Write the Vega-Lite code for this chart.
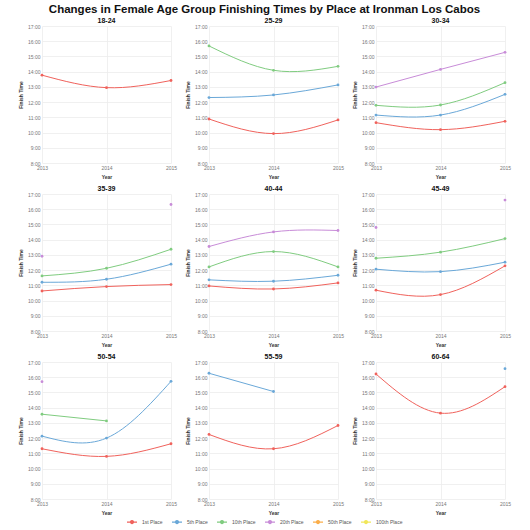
{
  "$schema": "https://vega.github.io/schema/vega-lite/v6.json",
  "title": {
    "text": "Changes in Female Age Group Finishing Times by Place at Ironman Los Cabos",
    "fontSize": 11.5,
    "fontWeight": "bold",
    "font": "Liberation Sans",
    "color": "#111111",
    "anchor": "middle",
    "offset": 2
  },
  "background": "#ffffff",
  "padding": {"left": 18, "top": 3, "right": 8, "bottom": 2},
  "config": {
    "font": "Liberation Sans",
    "view": {"stroke": null},
    "axis": {
      "grid": true,
      "gridColor": "#ececec",
      "gridWidth": 0.8,
      "domain": false,
      "ticks": false,
      "labelFontSize": 5,
      "labelColor": "#777777",
      "labelPadding": 2,
      "labelFlush": false,
      "labelOverlap": false,
      "titleFontSize": 5,
      "titleFontWeight": "bold",
      "titleColor": "#333333",
      "titlePadding": 4
    },
    "legend": {
      "orient": "bottom",
      "direction": "horizontal",
      "title": null,
      "labelFontSize": 5,
      "labelColor": "#555555",
      "symbolType": "M-1,0L1,0M0.3,0A0.3,0.3 0 1,1 -0.3,0A0.3,0.3 0 1,1 0.3,0",
      "symbolSize": 100,
      "symbolStrokeWidth": 1.2,
      "columnPadding": 6,
      "offset": 1,
      "layout": {"bottom": {"anchor": "middle"}}
    }
  },
  "data": {
    "values": [
      {"group": "18-24", "place": "1st Place", "year": 2013, "time": 13.77},
      {"group": "18-24", "place": "1st Place", "year": 2014, "time": 12.95},
      {"group": "18-24", "place": "1st Place", "year": 2015, "time": 13.42},

      {"group": "25-29", "place": "1st Place", "year": 2013, "time": 10.89},
      {"group": "25-29", "place": "1st Place", "year": 2014, "time": 9.93},
      {"group": "25-29", "place": "1st Place", "year": 2015, "time": 10.83},
      {"group": "25-29", "place": "5th Place", "year": 2013, "time": 12.3},
      {"group": "25-29", "place": "5th Place", "year": 2014, "time": 12.47},
      {"group": "25-29", "place": "5th Place", "year": 2015, "time": 13.13},
      {"group": "25-29", "place": "10th Place", "year": 2013, "time": 15.69},
      {"group": "25-29", "place": "10th Place", "year": 2014, "time": 14.09},
      {"group": "25-29", "place": "10th Place", "year": 2015, "time": 14.35},

      {"group": "30-34", "place": "1st Place", "year": 2013, "time": 10.65},
      {"group": "30-34", "place": "1st Place", "year": 2014, "time": 10.19},
      {"group": "30-34", "place": "1st Place", "year": 2015, "time": 10.74},
      {"group": "30-34", "place": "5th Place", "year": 2013, "time": 11.15},
      {"group": "30-34", "place": "5th Place", "year": 2014, "time": 11.15},
      {"group": "30-34", "place": "5th Place", "year": 2015, "time": 12.51},
      {"group": "30-34", "place": "10th Place", "year": 2013, "time": 11.79},
      {"group": "30-34", "place": "10th Place", "year": 2014, "time": 11.81},
      {"group": "30-34", "place": "10th Place", "year": 2015, "time": 13.28},
      {"group": "30-34", "place": "20th Place", "year": 2013, "time": 12.99},
      {"group": "30-34", "place": "20th Place", "year": 2014, "time": 14.15},
      {"group": "30-34", "place": "20th Place", "year": 2015, "time": 15.27},

      {"group": "35-39", "place": "1st Place", "year": 2013, "time": 10.63},
      {"group": "35-39", "place": "1st Place", "year": 2014, "time": 10.92},
      {"group": "35-39", "place": "1st Place", "year": 2015, "time": 11.05},
      {"group": "35-39", "place": "5th Place", "year": 2013, "time": 11.2},
      {"group": "35-39", "place": "5th Place", "year": 2014, "time": 11.4},
      {"group": "35-39", "place": "5th Place", "year": 2015, "time": 12.39},
      {"group": "35-39", "place": "10th Place", "year": 2013, "time": 11.62},
      {"group": "35-39", "place": "10th Place", "year": 2014, "time": 12.12},
      {"group": "35-39", "place": "10th Place", "year": 2015, "time": 13.37},
      {"group": "35-39", "place": "20th Place", "year": 2013, "time": 12.91},
      {"group": "35-39", "place": "20th Place", "year": 2014, "time": null},
      {"group": "35-39", "place": "20th Place", "year": 2015, "time": 16.31},

      {"group": "40-44", "place": "1st Place", "year": 2013, "time": 10.96},
      {"group": "40-44", "place": "1st Place", "year": 2014, "time": 10.76},
      {"group": "40-44", "place": "1st Place", "year": 2015, "time": 11.16},
      {"group": "40-44", "place": "5th Place", "year": 2013, "time": 11.36},
      {"group": "40-44", "place": "5th Place", "year": 2014, "time": 11.27},
      {"group": "40-44", "place": "5th Place", "year": 2015, "time": 11.66},
      {"group": "40-44", "place": "10th Place", "year": 2013, "time": 12.21},
      {"group": "40-44", "place": "10th Place", "year": 2014, "time": 13.22},
      {"group": "40-44", "place": "10th Place", "year": 2015, "time": 12.21},
      {"group": "40-44", "place": "20th Place", "year": 2013, "time": 13.55},
      {"group": "40-44", "place": "20th Place", "year": 2014, "time": 14.51},
      {"group": "40-44", "place": "20th Place", "year": 2015, "time": 14.6},

      {"group": "45-49", "place": "1st Place", "year": 2013, "time": 10.68},
      {"group": "45-49", "place": "1st Place", "year": 2014, "time": 10.39},
      {"group": "45-49", "place": "1st Place", "year": 2015, "time": 12.28},
      {"group": "45-49", "place": "5th Place", "year": 2013, "time": 12.06},
      {"group": "45-49", "place": "5th Place", "year": 2014, "time": 11.9},
      {"group": "45-49", "place": "5th Place", "year": 2015, "time": 12.52},
      {"group": "45-49", "place": "10th Place", "year": 2013, "time": 12.78},
      {"group": "45-49", "place": "10th Place", "year": 2014, "time": 13.18},
      {"group": "45-49", "place": "10th Place", "year": 2015, "time": 14.07},
      {"group": "45-49", "place": "20th Place", "year": 2013, "time": 14.8},
      {"group": "45-49", "place": "20th Place", "year": 2014, "time": null},
      {"group": "45-49", "place": "20th Place", "year": 2015, "time": 16.6},

      {"group": "50-54", "place": "1st Place", "year": 2013, "time": 11.3},
      {"group": "50-54", "place": "1st Place", "year": 2014, "time": 10.8},
      {"group": "50-54", "place": "1st Place", "year": 2015, "time": 11.63},
      {"group": "50-54", "place": "5th Place", "year": 2013, "time": 12.13},
      {"group": "50-54", "place": "5th Place", "year": 2014, "time": 12.0},
      {"group": "50-54", "place": "5th Place", "year": 2015, "time": 15.73},
      {"group": "50-54", "place": "10th Place", "year": 2013, "time": 13.57},
      {"group": "50-54", "place": "10th Place", "year": 2014, "time": 13.13},
      {"group": "50-54", "place": "20th Place", "year": 2013, "time": 15.71},

      {"group": "55-59", "place": "1st Place", "year": 2013, "time": 12.24},
      {"group": "55-59", "place": "1st Place", "year": 2014, "time": 11.3},
      {"group": "55-59", "place": "1st Place", "year": 2015, "time": 12.83},
      {"group": "55-59", "place": "5th Place", "year": 2013, "time": 16.26},
      {"group": "55-59", "place": "5th Place", "year": 2014, "time": 15.06},

      {"group": "60-64", "place": "1st Place", "year": 2013, "time": 16.21},
      {"group": "60-64", "place": "1st Place", "year": 2014, "time": 13.64},
      {"group": "60-64", "place": "1st Place", "year": 2015, "time": 15.38},
      {"group": "60-64", "place": "5th Place", "year": 2015, "time": 16.56}
    ]
  },
  "facet": {
    "field": "group",
    "type": "nominal",
    "sort": ["18-24", "25-29", "30-34", "35-39", "40-44", "45-49", "50-54", "55-59", "60-64"],
    "header": {
      "title": null,
      "labelFontSize": 7,
      "labelFontWeight": "bold",
      "labelColor": "#111111",
      "labelPadding": 0
    }
  },
  "columns": 3,
  "spacing": {"column": 8, "row": 6},
  "resolve": {"axis": {"x": "independent", "y": "independent"}},
  "spec": {
    "width": 129,
    "height": 137,
    "encoding": {
      "x": {
        "field": "year",
        "type": "quantitative",
        "scale": {"domain": [2013, 2015], "nice": false, "zero": false},
        "axis": {
          "title": "Year",
          "values": [2013, 2014, 2015],
          "labelExpr": "'' + datum.value",
          "labelOverlap": false,
          "labelBound": false
        }
      },
      "y": {
        "field": "time",
        "type": "quantitative",
        "scale": {"domain": [8, 17], "nice": false, "zero": false},
        "axis": {
          "title": "Finish Time",
          "values": [8, 9, 10, 11, 12, 13, 14, 15, 16, 17],
          "labelExpr": "datum.value + ':00'"
        }
      },
      "color": {
        "field": "place",
        "type": "nominal",
        "scale": {
          "domain": ["1st Place", "5th Place", "10th Place", "20th Place", "50th Place", "100th Place"],
          "range": ["#f0625c", "#6aa8d8", "#80cc80", "#c88cd8", "#fbae4a", "#f1e75a"]
        }
      }
    },
    "layer": [
      {
        "mark": {"type": "line", "interpolate": "natural", "strokeWidth": 1, "invalid": "break-paths-show-domains"}
      },
      {
        "mark": {"type": "point", "filled": true, "size": 8, "opacity": 1, "invalid": "filter"}
      }
    ]
  }
}
